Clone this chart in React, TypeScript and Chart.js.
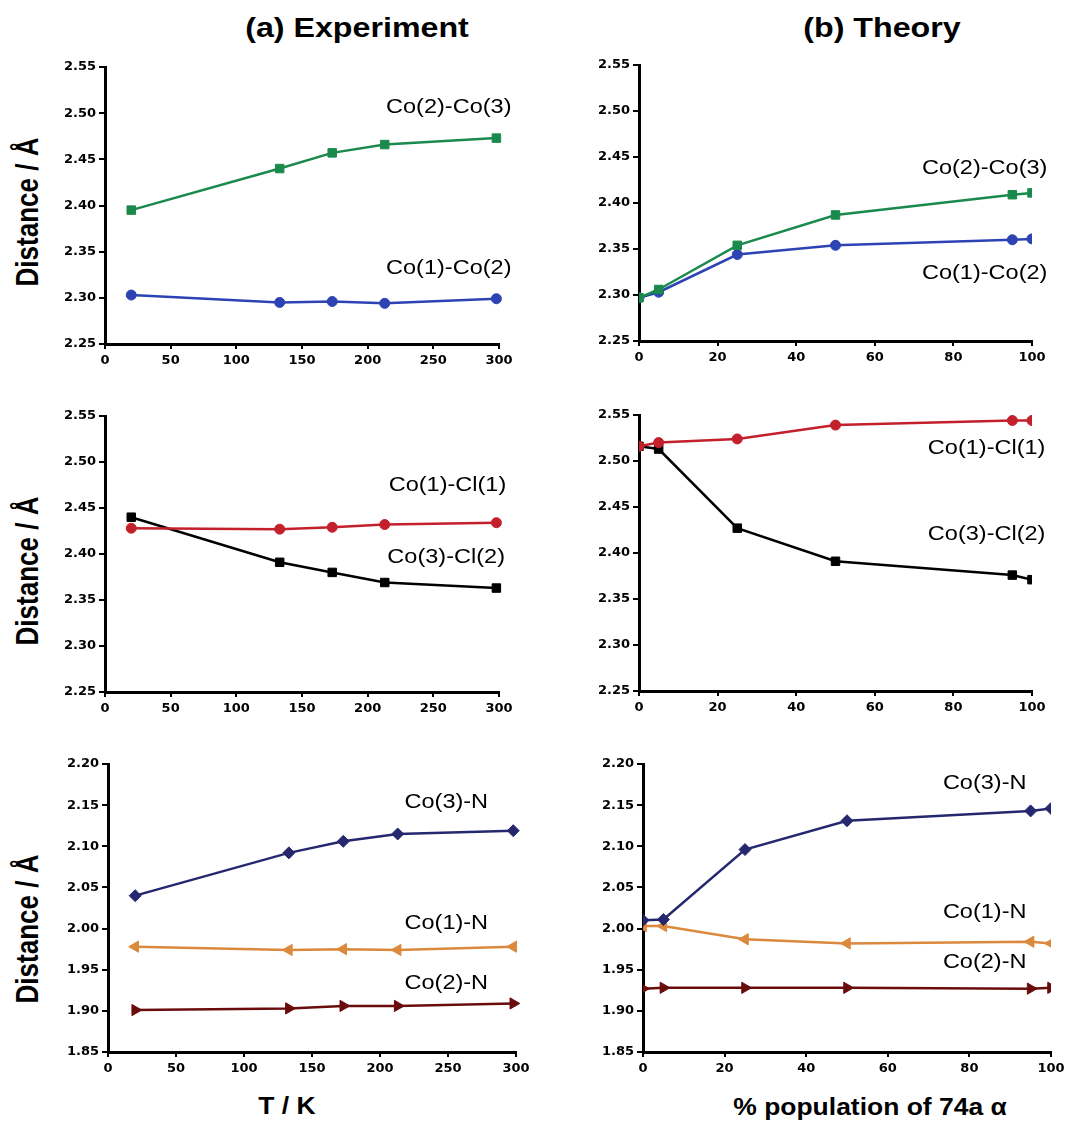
import React, { useEffect, useRef } from 'react';
import { Chart, registerables } from 'chart.js';

Chart.register(...registerables);

// ---------- data ----------
const tempK = [20, 133, 173, 213, 298];
const popPct = [0, 5, 25, 50, 95, 100];

// (a) Experiment
const expCo2Co3 = [2.395, 2.44, 2.457, 2.466, 2.473];
const expCo1Co2 = [2.303, 2.295, 2.296, 2.294, 2.299];
const expCo1Cl1 = [2.428, 2.427, 2.429, 2.432, 2.434];
const expCo3Cl2 = [2.44, 2.391, 2.38, 2.369, 2.363];
const expCo3N = [2.04, 2.092, 2.106, 2.115, 2.119];
const expCo1N = [1.978, 1.974, 1.975, 1.974, 1.978];
const expCo2N = [1.901, 1.903, 1.906, 1.906, 1.909];

// (b) Theory
const thCo2Co3 = [2.297, 2.306, 2.354, 2.387, 2.409, 2.411];
const thCo1Co2 = [2.297, 2.303, 2.344, 2.354, 2.36, 2.361];
const thCo1Cl1 = [2.516, 2.52, 2.524, 2.539, 2.544, 2.544];
const thCo3Cl2 = [2.516, 2.513, 2.427, 2.391, 2.376, 2.371];
const thCo3N = [2.01, 2.011, 2.096, 2.131, 2.143, 2.146];
const thCo1N = [2.003, 2.003, 1.987, 1.982, 1.984, 1.982];
const thCo2N = [1.927, 1.928, 1.928, 1.928, 1.927, 1.928];

// axis ranges
const yRangeCoCo = [2.25, 2.55];
const yRangeCoN = [1.85, 2.2];
const tempTicks = [0, 300, 50];
const popTicks = [0, 100, 20];

// ---------- styles ----------
const GREEN = '#1a8a4c';
const BLUE = '#2d43b3';
const RED = '#c4202b';
const BLACK = '#000000';
const NAVY = '#26286f';
const ORANGE = '#db893d';
const DARKRED = '#6b0c0c';

type Series = { data: number[]; color: string; style: string; rot?: number; r?: number };
type Label = { text: string; x: number; y: number };

const textPlugin = {
  id: 'seriesText',
  afterDatasetsDraw(chart: any, _args: any, opts: any) {
    const items: Label[] = (opts && opts.items) || [];
    const { ctx } = chart;
    const xs = chart.scales.x;
    const ys = chart.scales.y;
    ctx.save();
    ctx.font = '21px "Liberation Sans", Arial, sans-serif';
    ctx.fillStyle = '#000';
    ctx.textBaseline = 'middle';
    ctx.textAlign = 'left';
    for (const it of items) {
      const px = xs.getPixelForValue(it.x);
      const py = ys.getPixelForValue(it.y);
      ctx.save();
      ctx.translate(px, py);
      ctx.scale(1.12, 1);
      ctx.fillText(it.text, 0, 0);
      ctx.restore();
    }
    ctx.restore();
  },
};

type PanelProps = {
  area: { l: number; t: number; r: number; b: number };
  xs: number[];
  xTicks: number[];
  yRange: number[];
  series: Series[];
  labels: Label[];
  clipX: boolean;
};

const YW = 58;
const XH = 30;
const PT = 12;
const PR = 20;

function Panel({ area, xs, xTicks, yRange, series, labels, clipX }: PanelProps) {
  const ref = useRef<HTMLCanvasElement | null>(null);
  const left = area.l - YW;
  const top = area.t - PT;
  const width = area.r + PR - left;
  const height = area.b + XH - top;

  useEffect(() => {
    if (!ref.current) return;
    const tickFont = { family: '"DejaVu Sans", sans-serif', weight: 'bold' as const, size: 13 };
    const chart = new Chart(ref.current, {
      type: 'line',
      data: {
        datasets: series.map((s) => ({
          data: xs.map((x, i) => ({ x, y: s.data[i] })),
          borderColor: s.color,
          backgroundColor: s.color,
          pointBackgroundColor: s.color,
          pointBorderColor: s.color,
          pointStyle: s.style as any,
          pointRotation: s.rot || 0,
          pointRadius: s.r || 4.5,
          pointBorderWidth: 1,
          borderWidth: 2.5,
          tension: 0,
          fill: false,
          clip: clipX ? { left: 0, right: 0, top: 10, bottom: 10 } : (false as any),
        })),
      },
      options: {
        animation: false,
        responsive: false,
        maintainAspectRatio: false,
        events: [],
        layout: { padding: { top: PT, right: PR, left: 0, bottom: 0 } },
        plugins: {
          legend: { display: false },
          tooltip: { enabled: false },
          seriesText: { items: labels },
        } as any,
        scales: {
          x: {
            type: 'linear',
            min: xTicks[0],
            max: xTicks[1],
            ticks: { stepSize: xTicks[2], color: '#000', font: tickFont, padding: 4, maxRotation: 0 },
            grid: { drawOnChartArea: false, drawTicks: true, tickLength: 5, color: '#000', lineWidth: 2 },
            border: { display: true, color: '#000', width: 3 },
            afterFit: (s: any) => {
              s.height = XH;
            },
          },
          y: {
            type: 'linear',
            min: yRange[0],
            max: yRange[1],
            ticks: {
              stepSize: 0.05,
              color: '#000',
              font: tickFont,
              padding: 3,
              callback: (v: any) => Number(v).toFixed(2),
            },
            grid: { drawOnChartArea: false, drawTicks: true, tickLength: 6, color: '#000', lineWidth: 2 },
            border: { display: true, color: '#000', width: 3 },
            afterFit: (s: any) => {
              s.width = YW;
            },
          },
        },
      },
      plugins: [textPlugin as any],
    });
    return () => chart.destroy();
  }, []);

  return (
    <canvas
      ref={ref}
      width={width}
      height={height}
      style={{ position: 'absolute', left, top, width, height }}
    />
  );
}

const bold = '"Liberation Sans", Arial, sans-serif';

function Text({ x, y, size, text, rotate }: { x: number; y: number; size: number; text: string; rotate?: boolean }) {
  return (
    <div
      style={{
        position: 'absolute',
        left: x,
        top: y,
        transform: rotate
          ? 'translate(-50%, -50%) rotate(-90deg) scaleY(1.18)'
          : 'translate(-50%, -50%) scaleX(1.15)',
        fontFamily: bold,
        fontWeight: 'bold',
        fontSize: size,
        whiteSpace: 'nowrap',
        color: '#000',
        lineHeight: 1,
      }}
    >
      {text}
    </div>
  );
}

export default function App() {
  return (
    <div style={{ position: 'absolute', left: 0, top: 0, width: 1070, height: 1123, background: '#fff', overflow: 'hidden' }}>
      <Text x={357} y={28} size={28} text="(a) Experiment" />
      <Text x={882} y={28} size={28} text="(b) Theory" />
      <Text x={27} y={212} size={26} text="Distance / Å" rotate />
      <Text x={27} y={571} size={26} text="Distance / Å" rotate />
      <Text x={27} y={929} size={26} text="Distance / Å" rotate />
      <Text x={287} y={1106} size={23} text="T / K" />
      <Text x={870} y={1107} size={23} text="% population of 74a α" />

      <Panel
        area={{ l: 105, t: 67, r: 499, b: 344 }}
        xs={tempK}
        xTicks={tempTicks}
        yRange={yRangeCoCo}
        clipX={false}
        series={[
          { data: expCo2Co3, color: GREEN, style: 'rect', r: 6 },
          { data: expCo1Co2, color: BLUE, style: 'circle', r: 5 },
        ]}
        labels={[
          { text: 'Co(2)-Co(3)', x: 214, y: 2.506 },
          { text: 'Co(1)-Co(2)', x: 214, y: 2.332 },
        ]}
      />
      <Panel
        area={{ l: 639, t: 65, r: 1032, b: 341 }}
        xs={popPct}
        xTicks={popTicks}
        yRange={yRangeCoCo}
        clipX={true}
        series={[
          { data: thCo2Co3, color: GREEN, style: 'rect', r: 6 },
          { data: thCo1Co2, color: BLUE, style: 'circle', r: 5 },
        ]}
        labels={[
          { text: 'Co(2)-Co(3)', x: 72, y: 2.438 },
          { text: 'Co(1)-Co(2)', x: 72, y: 2.324 },
        ]}
      />
      <Panel
        area={{ l: 105, t: 416, r: 499, b: 692 }}
        xs={tempK}
        xTicks={tempTicks}
        yRange={yRangeCoCo}
        clipX={false}
        series={[
          { data: expCo1Cl1, color: RED, style: 'circle', r: 5 },
          { data: expCo3Cl2, color: BLACK, style: 'rect', r: 6 },
        ]}
        labels={[
          { text: 'Co(1)-Cl(1)', x: 216, y: 2.475 },
          { text: 'Co(3)-Cl(2)', x: 215, y: 2.397 },
        ]}
      />
      <Panel
        area={{ l: 639, t: 415, r: 1032, b: 691 }}
        xs={popPct}
        xTicks={popTicks}
        yRange={yRangeCoCo}
        clipX={true}
        series={[
          { data: thCo1Cl1, color: RED, style: 'circle', r: 5 },
          { data: thCo3Cl2, color: BLACK, style: 'rect', r: 6 },
        ]}
        labels={[
          { text: 'Co(1)-Cl(1)', x: 73.5, y: 2.514 },
          { text: 'Co(3)-Cl(2)', x: 73.5, y: 2.42 },
        ]}
      />
      <Panel
        area={{ l: 108, t: 764, r: 516, b: 1052 }}
        xs={tempK}
        xTicks={tempTicks}
        yRange={yRangeCoN}
        clipX={false}
        series={[
          { data: expCo3N, color: NAVY, style: 'rectRot', r: 6 },
          { data: expCo1N, color: ORANGE, style: 'triangle', rot: -90, r: 6.5 },
          { data: expCo2N, color: DARKRED, style: 'triangle', rot: 90, r: 6.5 },
        ]}
        labels={[
          { text: 'Co(3)-N', x: 218, y: 2.154 },
          { text: 'Co(1)-N', x: 218, y: 2.007 },
          { text: 'Co(2)-N', x: 218, y: 1.934 },
        ]}
      />
      <Panel
        area={{ l: 643, t: 764, r: 1051, b: 1052 }}
        xs={popPct}
        xTicks={popTicks}
        yRange={yRangeCoN}
        clipX={true}
        series={[
          { data: thCo3N, color: NAVY, style: 'rectRot', r: 6 },
          { data: thCo1N, color: ORANGE, style: 'triangle', rot: -90, r: 6.5 },
          { data: thCo2N, color: DARKRED, style: 'triangle', rot: 90, r: 6.5 },
        ]}
        labels={[
          { text: 'Co(3)-N', x: 73.5, y: 2.177 },
          { text: 'Co(1)-N', x: 73.5, y: 2.02 },
          { text: 'Co(2)-N', x: 73.5, y: 1.959 },
        ]}
      />
    </div>
  );
}
